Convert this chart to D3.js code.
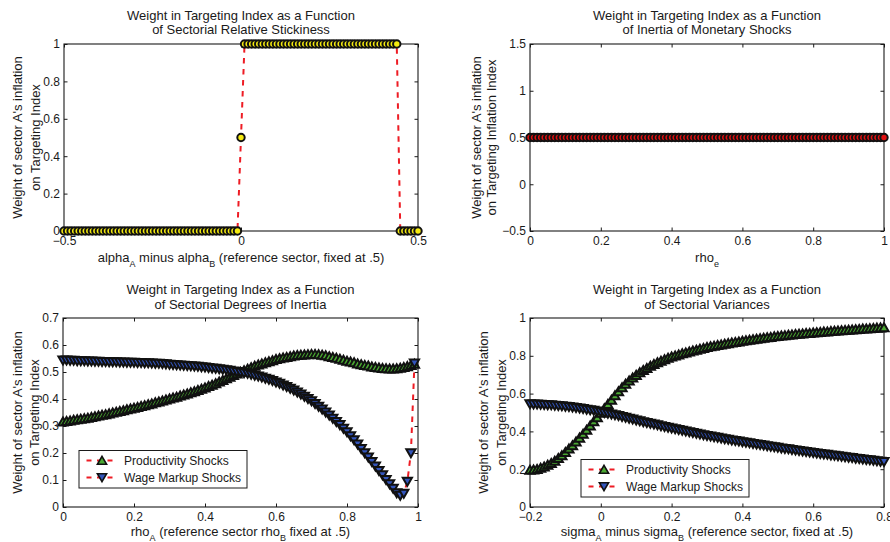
<!DOCTYPE html>
<html>
<head>
<meta charset="utf-8">
<style>
  body { margin: 0; background: #fff; }
  svg { display: block; }
  text { font-family: "Liberation Sans", Arial, Helvetica, sans-serif; fill: #1a1a1a; }
  .tick text { font-size: 12px; fill: #1a1a1a; }
  .tick line { stroke: #1a1a1a; }
  .title, .label { font-size: 13px; }
  .legend text { font-size: 12px; }
</style>
</head>
<body>
<script src="https://d3js.org/d3.v7.min.js"></script>
<svg width="890" height="542"></svg>
<script>
/* sample grids of the four experiments (step .01) */
var xStick   = d3.range(-50, 51).map(function(i) { return i / 100; });
var xMonet   = d3.range(0, 101).map(function(i) { return i / 100; });
var xInertia = d3.range(0, 100).map(function(i) { return i / 100; });
var xVar     = d3.range(-20, 81).map(function(i) { return i / 100; });

/* weight of sector A vs relative stickiness */
var stickWeight = [
  0,0,0,0,0,0,0,0,0,0, 0,0,0,0,0,0,0,0,0,0, 0,0,0,0,0,0,0,0,0,0,
  0,0,0,0,0,0,0,0,0,0, 0,0,0,0,0,0,0,0,0,0,
  0.5,
  1,1,1,1,1,1,1,1,1,1, 1,1,1,1,1,1,1,1,1,1, 1,1,1,1,1,1,1,1,1,1,
  1,1,1,1,1,1,1,1,1,1, 1,1,1,1,
  0,0,0,0,0,0
];

/* weight vs inertia of monetary shocks */
var monetWeight = [
  0.5,0.5,0.5,0.5,0.5,0.5,0.5,0.5,0.5,0.5, 0.5,0.5,0.5,0.5,0.5,0.5,0.5,0.5,0.5,0.5,
  0.5,0.5,0.5,0.5,0.5,0.5,0.5,0.5,0.5,0.5, 0.5,0.5,0.5,0.5,0.5,0.5,0.5,0.5,0.5,0.5,
  0.5,0.5,0.5,0.5,0.5,0.5,0.5,0.5,0.5,0.5, 0.5,0.5,0.5,0.5,0.5,0.5,0.5,0.5,0.5,0.5,
  0.5,0.5,0.5,0.5,0.5,0.5,0.5,0.5,0.5,0.5, 0.5,0.5,0.5,0.5,0.5,0.5,0.5,0.5,0.5,0.5,
  0.5,0.5,0.5,0.5,0.5,0.5,0.5,0.5,0.5,0.5, 0.5,0.5,0.5,0.5,0.5,0.5,0.5,0.5,0.5,0.5,
  0.5
];

/* weight vs sectoral degrees of inertia */
var inertiaProd = [
  0.316,0.318,0.320,0.322,0.324,0.326,0.328,0.330,0.333,0.335,
  0.338,0.341,0.343,0.346,0.349,0.352,0.355,0.358,0.361,0.364,
  0.367,0.370,0.373,0.376,0.380,0.383,0.387,0.390,0.394,0.397,
  0.401,0.405,0.408,0.412,0.416,0.420,0.424,0.428,0.433,0.437,
  0.442,0.447,0.452,0.458,0.464,0.470,0.476,0.482,0.488,0.494,
  0.500,0.506,0.511,0.517,0.522,0.527,0.531,0.535,0.539,0.543,
  0.547,0.550,0.553,0.555,0.558,0.560,0.562,0.563,0.564,0.565,
  0.566,0.566,0.565,0.563,0.561,0.558,0.555,0.552,0.548,0.545,
  0.541,0.538,0.535,0.531,0.528,0.525,0.523,0.520,0.518,0.516,
  0.514,0.513,0.512,0.512,0.513,0.515,0.518,0.521,0.525,0.530
];
var inertiaWage = [
  0.543,0.543,0.542,0.542,0.541,0.541,0.541,0.540,0.540,0.539,
  0.539,0.538,0.538,0.537,0.537,0.537,0.536,0.536,0.535,0.535,
  0.535,0.534,0.534,0.533,0.533,0.532,0.531,0.531,0.530,0.529,
  0.528,0.527,0.526,0.525,0.524,0.523,0.522,0.521,0.520,0.518,
  0.517,0.516,0.514,0.513,0.511,0.509,0.507,0.505,0.503,0.501,
  0.499,0.496,0.494,0.491,0.487,0.484,0.480,0.476,0.472,0.467,
  0.462,0.457,0.451,0.445,0.439,0.432,0.425,0.417,0.409,0.401,
  0.392,0.382,0.372,0.362,0.351,0.340,0.328,0.316,0.304,0.291,
  0.278,0.263,0.248,0.232,0.216,0.200,0.184,0.167,0.151,0.134,
  0.118,0.101,0.085,0.068,0.052,0.042,0.050,0.094,0.200,0.532
];

/* weight vs sectoral variances */
var varProd = [
  0.196,0.197,0.200,0.206,0.213,0.222,0.232,0.244,0.258,0.273,
  0.290,0.308,0.326,0.346,0.366,0.387,0.408,0.430,0.452,0.474,
  0.497,0.521,0.544,0.567,0.590,0.612,0.632,0.651,0.668,0.684,
  0.698,0.712,0.724,0.735,0.746,0.756,0.765,0.773,0.781,0.788,
  0.795,0.801,0.806,0.812,0.817,0.822,0.827,0.831,0.836,0.840,
  0.845,0.849,0.852,0.856,0.859,0.863,0.866,0.869,0.872,0.875,
  0.878,0.881,0.884,0.887,0.889,0.892,0.894,0.897,0.899,0.902,
  0.904,0.906,0.908,0.910,0.912,0.914,0.916,0.917,0.919,0.920,
  0.922,0.924,0.925,0.927,0.928,0.930,0.931,0.933,0.934,0.936,
  0.937,0.938,0.940,0.941,0.943,0.944,0.945,0.946,0.948,0.949,
  0.950
];
var varWage = [
  0.545,0.544,0.543,0.542,0.541,0.540,0.539,0.537,0.536,0.534,
  0.532,0.530,0.527,0.525,0.522,0.519,0.516,0.513,0.510,0.507,
  0.503,0.499,0.495,0.491,0.486,0.482,0.477,0.473,0.468,0.464,
  0.459,0.455,0.450,0.446,0.441,0.437,0.433,0.428,0.424,0.420,
  0.416,0.412,0.408,0.404,0.400,0.396,0.392,0.388,0.385,0.381,
  0.377,0.374,0.370,0.367,0.363,0.360,0.357,0.353,0.350,0.347,
  0.344,0.341,0.338,0.335,0.332,0.329,0.326,0.323,0.320,0.317,
  0.314,0.311,0.308,0.306,0.303,0.300,0.297,0.295,0.292,0.290,
  0.287,0.284,0.282,0.279,0.277,0.274,0.272,0.269,0.267,0.264,
  0.262,0.260,0.257,0.255,0.252,0.250,0.248,0.246,0.243,0.241,
  0.239
];

/* tick values */
var tlXTicks = [-0.5, 0, 0.5],             tlYTicks = [0, 0.2, 0.4, 0.6, 0.8, 1];
var trXTicks = [0, 0.2, 0.4, 0.6, 0.8, 1], trYTicks = [-0.5, 0, 0.5, 1, 1.5];
var blXTicks = [0, 0.2, 0.4, 0.6, 0.8, 1], blYTicks = [0, 0.1, 0.2, 0.3, 0.4, 0.5, 0.6, 0.7];
var brXTicks = [-0.2, 0, 0.2, 0.4, 0.6, 0.8], brYTicks = [0, 0.2, 0.4, 0.6, 0.8, 1];

var legendNames = ["Productivity Shocks", "Wage Markup Shocks"];

var svg = d3.select("svg");
var fmt = d3.format("~g");
var RED = "#ee1c24";
var EDGE = 2;

function triUp(s)   { return s.append("path").attr("d", "M0,-4.2L4.6,3.8L-4.6,3.8Z"); }
function triDown(s) { return s.append("path").attr("d", "M0,4.2L4.6,-3.8L-4.6,-3.8Z"); }

function panel(p) {
  var x = d3.scaleLinear().domain(p.xDomain).range([p.left, p.right]);
  var y = d3.scaleLinear().domain(p.yDomain).range([p.bottom, p.top]);
  var g = svg.append("g");

  // axes, ticks inward on all four sides
  g.append("g").attr("transform", "translate(0," + p.bottom + ")")
    .call(d3.axisBottom(x).tickValues(p.xTicks).tickFormat(fmt).tickSizeInner(-3.5).tickSizeOuter(0).tickPadding(5))
    .call(function(a) { a.select(".domain").remove(); });
  g.append("g").attr("transform", "translate(0," + p.top + ")")
    .call(d3.axisTop(x).tickValues(p.xTicks).tickFormat("").tickSizeInner(-3.5).tickSizeOuter(0))
    .call(function(a) { a.select(".domain").remove(); });
  g.append("g").attr("transform", "translate(" + p.left + ",0)")
    .call(d3.axisLeft(y).tickValues(p.yTicks).tickFormat(fmt).tickSizeInner(-3.5).tickSizeOuter(0).tickPadding(4))
    .call(function(a) { a.select(".domain").remove(); });
  g.append("g").attr("transform", "translate(" + p.right + ",0)")
    .call(d3.axisRight(y).tickValues(p.yTicks).tickFormat("").tickSizeInner(-3.5).tickSizeOuter(0))
    .call(function(a) { a.select(".domain").remove(); });

  g.append("rect")
    .attr("x", p.left).attr("y", p.top)
    .attr("width", p.right - p.left).attr("height", p.bottom - p.top)
    .attr("fill", "none").attr("stroke", "#1a1a1a").attr("stroke-width", 1.1);

  // title
  var t = g.append("text").attr("class", "title").attr("text-anchor", "middle");
  p.title.forEach(function(line, i) {
    t.append("tspan").attr("x", (p.left + p.right) / 2).attr("y", p.titleY + i * 14.5).text(line);
  });

  // x label with subscripts
  var xl = g.append("text").attr("class", "label").attr("text-anchor", "middle")
    .attr("x", (p.left + p.right) / 2).attr("y", p.xLabelY);
  var lowered = false;
  p.xLabel.forEach(function(part) {
    var ts = xl.append("tspan").text(part.t);
    if (part.sub) {
      ts.attr("font-size", "9px").attr("dy", 4.5);
      lowered = true;
    } else if (lowered) {
      ts.attr("dy", -4.5);
      lowered = false;
    }
  });

  // y label, two lines
  p.yLabel.forEach(function(line, i) {
    g.append("text").attr("class", "label").attr("text-anchor", "middle")
      .attr("transform", "translate(" + p.yLabelX[i] + "," + ((p.top + p.bottom) / 2) + ") rotate(-90)")
      .text(line);
  });

  // series: dashed line, then markers
  p.series.forEach(function(s) {
    var pts = s.xs.map(function(v, i) { return [v, s.ys[i]]; });
    g.append("path")
      .attr("d", d3.line().x(function(d) { return x(d[0]); }).y(function(d) { return y(d[1]); })(pts))
      .attr("fill", "none").attr("stroke", RED).attr("stroke-width", 2)
      .attr("stroke-dasharray", "5.5,5.5");
    var m = g.append("g");
    pts.forEach(function(d) {
      var mk = m.append("g").attr("transform", "translate(" + x(d[0]) + "," + y(d[1]) + ")");
      var shape = s.marker === "circle" ? mk.append("circle").attr("r", 3.7)
                : s.marker === "up" ? triUp(mk) : triDown(mk);
      shape.attr("fill", s.fill).attr("stroke", "#111").attr("stroke-width", EDGE);
    });
  });

  // legend
  if (p.legend) {
    var L = g.append("g").attr("class", "legend")
      .attr("transform", "translate(" + p.legend[0] + "," + p.legend[1] + ")");
    L.append("rect").attr("width", 168).attr("height", 37.5)
      .attr("fill", "#fff").attr("stroke", "#1a1a1a").attr("stroke-width", 1);
    p.series.forEach(function(s, i) {
      var cy = 10 + i * 17;
      L.append("line").attr("x1", 7.5).attr("x2", 39).attr("y1", cy).attr("y2", cy)
        .attr("stroke", RED).attr("stroke-width", 2).attr("stroke-dasharray", "5,5.5");
      var mk = L.append("g").attr("transform", "translate(23," + cy + ")");
      var shape = s.marker === "up" ? triUp(mk) : triDown(mk);
      shape.attr("fill", s.fill).attr("stroke", "#111").attr("stroke-width", 1.6);
      L.append("text").attr("x", 45).attr("y", cy).attr("dy", "0.36em").text(legendNames[i]);
    });
  }
}

panel({
  left: 64, right: 418, top: 44, bottom: 231,
  xDomain: [-0.5, 0.5], yDomain: [0, 1], xTicks: tlXTicks, yTicks: tlYTicks,
  title: ["Weight in Targeting Index as a Function", "of Sectorial Relative Stickiness"], titleY: 19.5,
  xLabel: [{t: "alpha"}, {t: "A", sub: true}, {t: " minus alpha"}, {t: "B", sub: true},
           {t: " (reference sector, fixed at .5)"}], xLabelY: 262,
  yLabel: ["Weight of sector A's inflation", "on Targeting Index"], yLabelX: [22, 39.5],
  series: [{xs: xStick, ys: stickWeight, marker: "circle", fill: "#f4ea10"}]
});

panel({
  left: 530, right: 884, top: 44, bottom: 231,
  xDomain: [0, 1], yDomain: [-0.5, 1.5], xTicks: trXTicks, yTicks: trYTicks,
  title: ["Weight in Targeting Index as a Function", "of Inertia of Monetary Shocks"], titleY: 19.5,
  xLabel: [{t: "rho"}, {t: "e", sub: true}], xLabelY: 262,
  yLabel: ["Weight of sector A's inflation", "on Targeting Inflation Index"], yLabelX: [481, 496],
  series: [{xs: xMonet, ys: monetWeight, marker: "circle", fill: "#e01010"}]
});

panel({
  left: 63, right: 418, top: 318, bottom: 507,
  xDomain: [0, 1], yDomain: [0, 0.7], xTicks: blXTicks, yTicks: blYTicks,
  title: ["Weight in Targeting Index as a Function", "of Sectorial Degrees of Inertia"], titleY: 294,
  xLabel: [{t: "rho"}, {t: "A", sub: true}, {t: " (reference sector rho"}, {t: "B", sub: true},
           {t: " fixed at .5)"}], xLabelY: 536,
  yLabel: ["Weight of sector A's inflation", "on Targeting Index"], yLabelX: [21.5, 39],
  series: [{xs: xInertia, ys: inertiaProd, marker: "up", fill: "#4aa832"},
           {xs: xInertia, ys: inertiaWage, marker: "down", fill: "#3355bb"}],
  legend: [79, 450.5]
});

panel({
  left: 530, right: 884, top: 318, bottom: 507,
  xDomain: [-0.2, 0.8], yDomain: [0, 1], xTicks: brXTicks, yTicks: brYTicks,
  title: ["Weight in Targeting Index as a Function", "of Sectorial Variances"], titleY: 294,
  xLabel: [{t: "sigma"}, {t: "A", sub: true}, {t: " minus sigma"}, {t: "B", sub: true},
           {t: " (reference sector, fixed at .5)"}], xLabelY: 536,
  yLabel: ["Weight of sector A's inflation", "on Targeting Index"], yLabelX: [487.5, 505.5],
  series: [{xs: xVar, ys: varProd, marker: "up", fill: "#4aa832"},
           {xs: xVar, ys: varWage, marker: "down", fill: "#3355bb"}],
  legend: [581, 459.5]
});
</script>
</body>
</html>
